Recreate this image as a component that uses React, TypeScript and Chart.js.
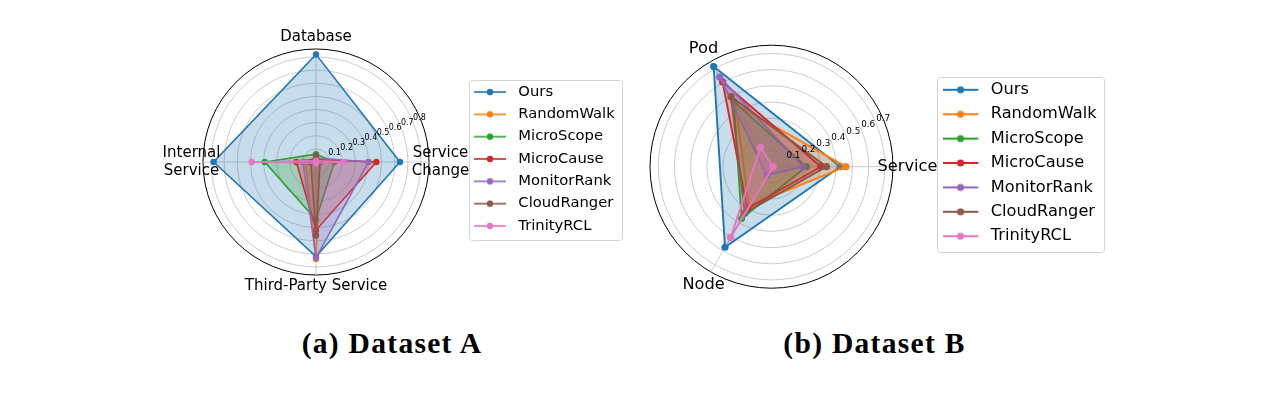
import React, { useEffect, useRef } from "react";
import { Chart, registerables } from "chart.js";

Chart.register(...registerables);

// ---------- data ----------
const seriesNames = ["Ours", "RandomWalk", "MicroScope", "MicroCause", "MonitorRank", "CloudRanger", "TrinityRCL"];
const seriesColors = ["#1f77b4", "#ff7f0e", "#2ca02c", "#d62728", "#9467bd", "#8c564b", "#e377c2"];

// Dataset A (clockwise from the right)
const categoriesA = [["Service", "Change"], "Third-Party Service", ["Internal", "Service"], "Database"];
const oursA = [0.64, 0.72, 0.78, 0.82];
const randomWalkA = [0.03, 0.74, 0.08, 0.01];
const microScopeA = [0.14, 0.44, 0.39, 0.06];
const microCauseA = [0.46, 0.52, 0.15, 0.02];
const monitorRankA = [0.4, 0.73, 0.1, 0.03];
const cloudRangerA = [0.03, 0.56, 0.04, 0.05];
const trinityRCLA = [0.21, 0.01, 0.49, 0.01];
const radialTicksA = [0.1, 0.2, 0.3, 0.4, 0.5, 0.6, 0.7, 0.8];
const radialMaxA = 0.861;

// Dataset B (clockwise from the right)
const categoriesB = ["Service", "Node", "Pod"];
const oursB = [0.425, 0.575, 0.715];
const randomWalkB = [0.46, 0.28, 0.445];
const microScopeB = [0.215, 0.37, 0.465];
const microCauseB = [0.305, 0.3, 0.605];
const monitorRankB = [0.195, 0.06, 0.64];
const cloudRangerB = [0.34, 0.33, 0.5];
const trinityRCLB = [0.01, 0.505, 0.137];
const radialTicksB = [0.1, 0.2, 0.3, 0.4, 0.5, 0.6, 0.7];
const radialMaxB = 0.751;

const captions = ["(a) Dataset A", "(b) Dataset B"];

// ---------- layout / style ----------
const panelA = {
  left: 0, width: 640, height: 318,
  cx: 316, cy: 162, r: 113,
  k: 1, legendX: 466.4, legendSize: 14.75, legendPad: 7.58, iconW: 37, iconLine: 32,
  labelSize: 15, labelOff: 11.5, tickSize: 8, lineW: 1.6, pointR: 3.2,
};
const panelB = {
  left: 640, width: 640, height: 326,
  cx: 131.5, cy: 166.7, r: 121.5,
  k: 1.1, legendX: 294.5, legendSize: 16.2, legendPad: 8.2, iconW: 40, iconLine: 35.6,
  labelSize: 16.2, labelOff: 14.5, tickSize: 8.8, lineW: 1.9, pointR: 3.6,
};

const FONT = "'DejaVu Sans', 'Liberation Sans', sans-serif";

function rgba(hex: string, a: number) {
  const n = parseInt(hex.slice(1), 16);
  return `rgba(${(n >> 16) & 255},${(n >> 8) & 255},${n & 255},${a})`;
}

function makeIcon(color: string, P: any) {
  const c = document.createElement("canvas");
  c.width = P.iconW;
  c.height = 12;
  const g = c.getContext("2d")!;
  g.strokeStyle = color;
  g.lineWidth = P.lineW;
  g.beginPath();
  g.moveTo(0, 6);
  g.lineTo(P.iconLine, 6);
  g.stroke();
  g.fillStyle = color;
  g.beginPath();
  g.arc(P.iconLine / 2, 6, P.pointR, 0, Math.PI * 2);
  g.fill();
  return c;
}

function RadarPanel({ P, labels, series, ticks, rmax, id }: any) {
  const ref = useRef<HTMLCanvasElement>(null);
  useEffect(() => {
    const canvas = ref.current!;
    const icons = seriesColors.map((c) => makeIcon(c, P));
    const gridTicks = [0, ...ticks, rmax];
    const n = seriesNames.length;
    const overlay = {
      id: "overlay" + id,
      afterLayout(chart: any) {
        const lg = chart.legend;
        if (lg) {
          const w = lg.width;
          lg.left = P.legendX;
          lg.right = P.legendX + w;
        }
      },
      afterDraw(chart: any) {
        const ctx = chart.ctx;
        const s = chart.scales.r;
        ctx.save();
        // radial tick labels at 22.5 degrees
        const a = (22.5 * Math.PI) / 180;
        ctx.font = `${P.tickSize}px ${FONT}`;
        ctx.fillStyle = "#000";
        ctx.textAlign = "left";
        ctx.textBaseline = "bottom";
        ticks.forEach((v: number) => {
          const d = s.getDistanceFromCenterForValue(v);
          ctx.fillText(v.toFixed(1), s.xCenter + d * Math.cos(a), s.yCenter - d * Math.sin(a));
        });
        // category labels
        ctx.font = `${P.labelSize}px ${FONT}`;
        ctx.textAlign = "center";
        ctx.textBaseline = "middle";
        const lh = P.labelSize * 1.15;
        chart.data.labels.forEach((lab: any, i: number) => {
          const p = s.getPointPosition(i, s.drawingArea + P.labelOff);
          const lines = Array.isArray(lab) ? lab : [lab];
          lines.forEach((ln: string, j: number) => {
            ctx.fillText(ln, p.x, p.y + (j - (lines.length - 1) / 2) * lh);
          });
        });
        // legend frame
        const lg = chart.legend;
        if (lg && lg.legendHitBoxes && lg.legendHitBoxes.length) {
          const hb = lg.legendHitBoxes;
          const k = P.k;
          const l = hb[0].left - 5 * k;
          const t = hb[0].top - 4.6 * k;
          const r = Math.max(...hb.map((h: any) => h.left + h.width)) + 7 * k;
          const last = hb[hb.length - 1];
          const b = last.top + last.height + 7 * k;
          ctx.strokeStyle = "#d4d4d4";
          ctx.lineWidth = 1;
          ctx.beginPath();
          (ctx as any).roundRect(Math.round(l) + 0.5, Math.round(t) + 0.5, Math.round(r - l), Math.round(b - t), 3);
          ctx.stroke();
        }
        ctx.restore();
      },
    };
    const chart = new Chart(canvas, {
      type: "radar",
      data: {
        labels,
        datasets: seriesNames.map((name, i) => ({
          label: name,
          data: series[i],
          borderColor: seriesColors[i],
          backgroundColor: rgba(seriesColors[i], 0.25),
          fill: true,
          borderWidth: P.lineW,
          pointRadius: P.pointR,
          pointHoverRadius: P.pointR,
          pointBackgroundColor: seriesColors[i],
          pointBorderColor: seriesColors[i],
          pointBorderWidth: 0,
          order: n - i,
          clip: false,
        })),
      },
      options: {
        responsive: false,
        animation: false,
        devicePixelRatio: 1,
        events: [],
        layout: { padding: 0 },
        elements: { line: { tension: 0 } },
        plugins: {
          tooltip: { enabled: false },
          legend: {
            display: true,
            position: "right",
            align: "center",
            labels: {
              usePointStyle: true,
              pointStyleWidth: P.iconW,
              padding: P.legendPad,
              color: "#000",
              font: { family: FONT, size: P.legendSize },
              generateLabels: (ch: any) =>
                ch.data.datasets.map((ds: any, i: number) => ({
                  text: ds.label,
                  pointStyle: icons[i],
                  fillStyle: "transparent",
                  strokeStyle: "transparent",
                  lineWidth: 0,
                  hidden: false,
                  datasetIndex: i,
                  fontColor: "#000",
                })),
            },
          },
        },
        scales: {
          r: {
            min: 0,
            max: rmax,
            startAngle: 90,
            afterBuildTicks: (s: any) => {
              s.ticks = gridTicks.map((v) => ({ value: v }));
            },
            afterFit: (s: any) => {
              s.xCenter = P.cx;
              s.yCenter = P.cy;
              s.drawingArea = P.r;
            },
            ticks: { display: false },
            pointLabels: { display: false },
            grid: {
              circular: true,
              color: (c: any) => (c.index === gridTicks.length - 1 ? "#000" : "#c6c6c6"),
              lineWidth: (c: any) => (c.index === gridTicks.length - 1 ? 1 : 0.9),
            },
            angleLines: { display: true, color: "#c6c6c6", lineWidth: 0.9 },
          },
        },
      } as any,
      plugins: [overlay],
    });
    return () => chart.destroy();
  }, []);
  return (
    <canvas
      ref={ref}
      width={P.width}
      height={P.height}
      style={{ position: "absolute", left: P.left, top: 0, width: P.width, height: P.height }}
    />
  );
}

export default function App() {
  const capStyle: React.CSSProperties = {
    position: "absolute",
    top: 328,
    width: 300,
    textAlign: "center",
    fontFamily: "'Liberation Serif', 'Times New Roman', serif",
    fontWeight: 700,
    fontSize: 29.5,
    lineHeight: "30px",
    letterSpacing: 1.3,
    color: "#000",
    whiteSpace: "nowrap",
  };
  return (
    <div style={{ position: "absolute", left: 0, top: 0, width: 1280, height: 394, background: "#fff", overflow: "hidden" }}>
      <RadarPanel
        id="A"
        P={panelA}
        labels={categoriesA}
        series={[oursA, randomWalkA, microScopeA, microCauseA, monitorRankA, cloudRangerA, trinityRCLA]}
        ticks={radialTicksA}
        rmax={radialMaxA}
      />
      <RadarPanel
        id="B"
        P={panelB}
        labels={categoriesB}
        series={[oursB, randomWalkB, microScopeB, microCauseB, monitorRankB, cloudRangerB, trinityRCLB]}
        ticks={radialTicksB}
        rmax={radialMaxB}
      />
      <div style={{ ...capStyle, left: 392 - 150 }}>{captions[0]}</div>
      <div style={{ ...capStyle, left: 874.5 - 150 }}>{captions[1]}</div>
    </div>
  );
}
